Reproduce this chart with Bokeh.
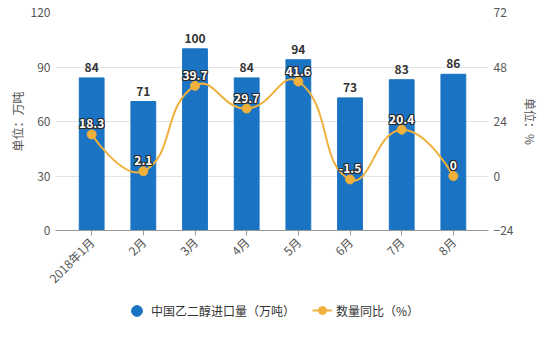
import numpy as np
from bokeh.plotting import figure
from bokeh.layouts import column
from bokeh.models import Range1d, LinearAxis, FixedTicker, Legend, LegendItem, ColumnDataSource
from bokeh.core.properties import value
from bokeh.embed import file_html
from bokeh.resources import INLINE

months = ["2018年1月", "2月", "3月", "4月", "5月", "6月", "7月", "8月"]
imports = [84, 71, 100, 84, 94, 73, 83, 86]
yoy = [18.3, 2.1, 39.7, 29.7, 41.6, -1.5, 20.4, 0]
yoy_labels = ["18.3", "2.1", "39.7", "29.7", "41.6", "-1.5", "20.4", "0"]
left_ticks = [0, 30, 60, 90, 120]
right_ticks = [-24, 0, 24, 48, 72]
series_names = ["中国乙二醇进口量（万吨）", "数量同比（%）"]

FONT = "Noto Sans CJK SC"
BLUE = "#1a73c3"
GOLD = "#efb03c"
TXT = "#555555"

xs = list(range(len(months)))

p = figure(width=542, height=295, output_backend="svg", toolbar_location=None,
           x_range=Range1d(-0.7, 7.68), y_range=Range1d(0, 120),
           min_border_left=55, min_border_right=50, min_border_top=12,
           min_border_bottom=65)
p.outline_line_color = None
p.extra_y_ranges = {"pct": Range1d(-24, 72)}

# grid
p.xgrid.grid_line_color = None
p.ygrid.grid_line_color = "#e3e3e3"
p.ygrid.ticker = FixedTicker(ticks=left_ticks)

# left axis
la = p.yaxis[0]
la.ticker = FixedTicker(ticks=left_ticks)
la.axis_line_color = None
la.major_tick_line_color = None
la.minor_tick_line_color = None
la.major_tick_out = 0
la.major_tick_in = 0
la.major_label_standoff = 5
la.axis_label = "单位：万吨"
la.axis_label_standoff = 2

# right axis
ra = LinearAxis(y_range_name="pct", ticker=FixedTicker(ticks=right_ticks))
ra.axis_line_color = None
ra.major_tick_line_color = None
ra.minor_tick_line_color = None
ra.major_tick_out = 0
ra.major_tick_in = 0
ra.major_label_standoff = 5
ra.axis_label = "单位：%"
ra.axis_label_standoff = 6
p.add_layout(ra, "right")

# bottom axis
xa = p.xaxis[0]
xa.ticker = FixedTicker(ticks=xs)
xa.major_label_overrides = {i: m for i, m in enumerate(months)}
xa.major_label_orientation = np.pi / 4
xa.axis_line_color = "#999999"
xa.major_tick_line_color = "#999999"
xa.major_tick_out = 5
xa.major_tick_in = 0
xa.minor_tick_line_color = None
xa.major_label_standoff = 4

for ax in [la, ra, xa]:
    ax.major_label_text_font = FONT
    ax.major_label_text_font_size = "12px"
    ax.major_label_text_color = TXT
    ax.axis_label_text_font = FONT
    ax.axis_label_text_font_size = "12px"
    ax.axis_label_text_font_style = "normal"
    ax.axis_label_text_color = TXT

# bars
src = ColumnDataSource(dict(x=xs, imp=imports, imp_lbl=[str(v) for v in imports],
                            yoy=yoy, yoy_lbl=yoy_labels))
p.vbar(x="x", top="imp", width=0.48, color=BLUE, source=src)
p.text(x="x", y="imp", text="imp_lbl", source=src, text_align="center",
       text_baseline="bottom", y_offset=-6, text_font=value(FONT),
       text_font_size="12px", text_font_style="bold", text_color="#333333")

# smooth line (echarts-style bezier, smooth = 0.5), computed from data
sx = 52.17
sy = 218 / 96.0
smooth = 0.5
n = len(yoy)
X = np.array(xs, dtype=float)
Y = np.array(yoy, dtype=float)
x0s, y0s, x1s, y1s, c0x, c0y, c1x, c1y = [], [], [], [], [], [], [], []
cp0x, cp0y = X[0], Y[0]
for i in range(1, n):
    px, py = X[i], Y[i]
    if i < n - 1:
        prx, pry = X[i - 1], Y[i - 1]
        nx, ny = X[i + 1], Y[i + 1]
        vx, vy = nx - prx, ny - pry
        l0 = np.hypot((px - prx) * sx, (py - pry) * sy)
        l1 = np.hypot((nx - px) * sx, (ny - py) * sy)
        r = l1 / (l0 + l1)
        cp1x, cp1y = px - vx * smooth * (1 - r), py - vy * smooth * (1 - r)
        ncp0x, ncp0y = px + vx * smooth * r, py + vy * smooth * r
    else:
        cp1x, cp1y = px, py
        ncp0x, ncp0y = px, py
    x0s.append(X[i - 1]); y0s.append(Y[i - 1])
    x1s.append(px); y1s.append(py)
    c0x.append(cp0x); c0y.append(cp0y)
    c1x.append(cp1x); c1y.append(cp1y)
    cp0x, cp0y = ncp0x, ncp0y

p.bezier(x0=x0s, y0=y0s, x1=x1s, y1=y1s, cx0=c0x, cy0=c0y, cx1=c1x, cy1=c1y,
         line_color=GOLD, line_width=2, y_range_name="pct")
p.scatter(x="x", y="yoy", source=src, size=9, fill_color=GOLD, line_color=GOLD,
          y_range_name="pct")

# line labels: white text with dark outline
for dx, dy in [(-1, -1), (0, -1), (1, -1), (-1, 0), (1, 0), (-1, 1), (0, 1), (1, 1)]:
    p.text(x="x", y="yoy", text="yoy_lbl", source=src, y_range_name="pct",
           text_align="center", text_baseline="bottom", x_offset=dx, y_offset=-6 + dy,
           text_font=value(FONT), text_font_size="12px", text_font_style="bold",
           text_color="#2b2b2b")
p.text(x="x", y="yoy", text="yoy_lbl", source=src, y_range_name="pct",
       text_align="center", text_baseline="bottom", y_offset=-6,
       text_font=value(FONT), text_font_size="12px", text_font_style="bold",
       text_color="white")

# legend strip (separate figure beneath the chart)
q = figure(width=542, height=49, output_backend="svg", toolbar_location=None,
           x_range=Range1d(0, 1), y_range=Range1d(0, 1),
           x_axis_location=None, y_axis_location=None,
           min_border_left=0, min_border_right=0, min_border_top=0, min_border_bottom=0)
q.grid.visible = False
q.outline_line_color = None
# icon renderers: one point placed outside the visible range, only used by the legend
r_bar_icon = q.scatter(x=[9], y=[9], size=13, marker="circle", fill_color=BLUE, line_color=BLUE)
r_line_icon = q.line(x=[9, 10], y=[9, 9], line_color=GOLD, line_width=2)
r_pt_icon = q.scatter(x=[9], y=[9], size=8, marker="circle", fill_color=GOLD, line_color=GOLD)

common = dict(orientation="horizontal", label_text_font=FONT, label_text_font_size="12px",
              label_text_color="#333333", border_line_color=None,
              background_fill_alpha=0, margin=0, padding=4)
leg1 = Legend(items=[LegendItem(label=series_names[0], renderers=[r_bar_icon])],
              location=(68, 20), glyph_width=27, glyph_height=27, label_standoff=1, **common)
leg2 = Legend(items=[LegendItem(label=series_names[1], renderers=[r_line_icon, r_pt_icon])],
              location=(257, 24), glyph_width=20, glyph_height=20, label_standoff=4, **common)
q.add_layout(leg1, "center")
q.add_layout(leg2, "center")

layout = column(p, q, spacing=0)
open("out.html", "w").write(file_html(layout, INLINE))
